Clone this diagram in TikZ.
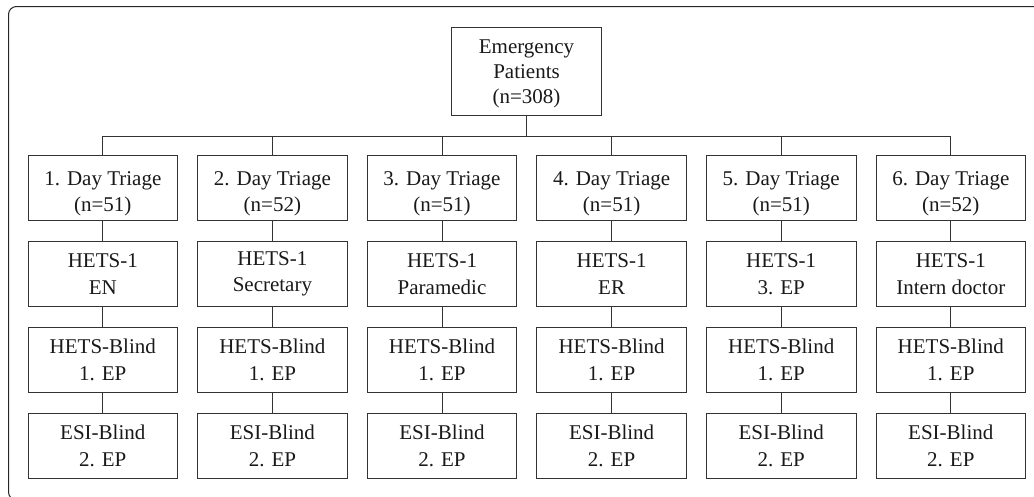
\documentclass[tikz,border=0pt]{standalone}
\usepackage{fontspec}
\setmainfont{Liberation Serif}
\begin{document}
\begin{tikzpicture}[x=1pt,y=-1pt,
  box/.style={draw=black!80, line width=0.9pt, minimum width=149.5pt, minimum height=65pt, inner sep=0pt, align=center,
     font=\fontsize{21}{26.5}\selectfont, text=black!90},
  txt/.style={inner sep=0pt, align=center, text=black!90},
  conn/.style={draw=black!80, line width=0.9pt}]
\useasboundingbox (0,0) rectangle (1034,496);
\begin{scope}
\clip (0,0) rectangle (1034,496);
\draw[black!85, line width=1pt, rounded corners=8pt] (8.5,6.5) rectangle (1060,500);
\end{scope}
\node[box, minimum height=88pt] (top) at (526.5,71) {};
\node[txt, font=\fontsize{21}{24.9}\selectfont] (toptext) at ([yshift=-2.6pt]top.center) {Emergency\\Patients\\(n=308)};
\coordinate (bus) at (0,136);
\foreach \i/\n/\h in {1/51/EN, 2/52/Secretary, 3/51/Paramedic, 4/51/ER, 5/51/3. EP, 6/52/Intern doctor}{
  \pgfmathsetmacro{\cx}{102.8+169.6*(\i-1)}
  \node[box] (d\i) at (\cx,188) {};
  \node[txt, font=\fontsize{21}{26}\selectfont] (dt\i) at ([yshift=-5.3pt]d\i.center) {\i. Day Triage\\(n=\n)};
  \node[box] (h\i) at (\cx,274) {HETS-1\\\h};
  \node[box] (b\i) at (\cx,359.7) {HETS-Blind\\1. EP};
  \node[box] (e\i) at (\cx,445.8) {ESI-Blind\\2. EP};
  \draw[conn] (d\i.north) -- (d\i.north |- bus);
  \draw[conn] (d\i) -- (h\i);
  \draw[conn] (h\i) -- (b\i);
  \draw[conn] (b\i) -- (e\i);
}
\draw[conn] (d1.north |- bus) -- (d6.north |- bus);
\draw[conn] (top) -- (top.south |- bus);
\end{tikzpicture}
\end{document}
